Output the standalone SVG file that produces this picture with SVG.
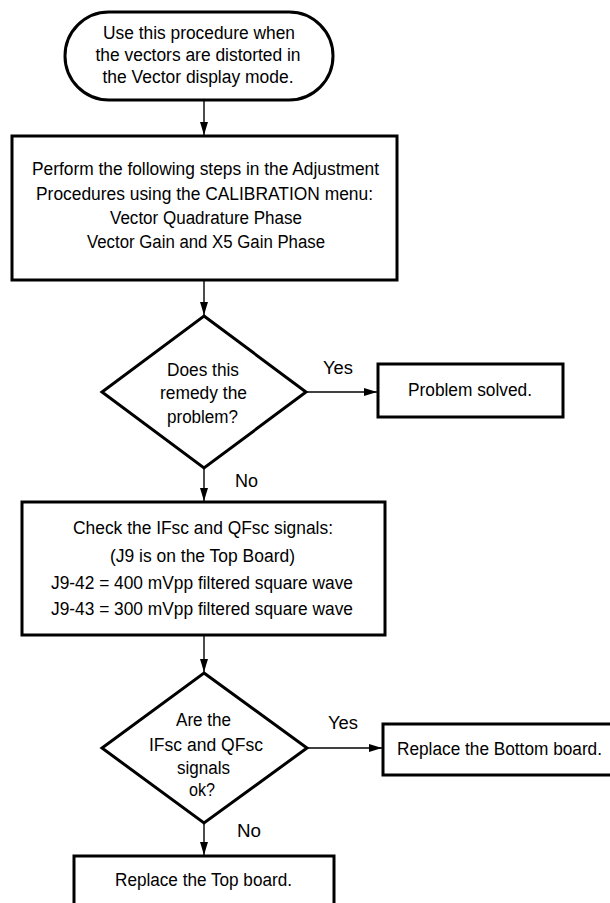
<svg xmlns="http://www.w3.org/2000/svg" width="610" height="903" viewBox="0 0 610 903">
<style>
.shape{fill:#fff;stroke:#000;stroke-width:3;stroke-linejoin:miter}
.conn{fill:none;stroke:#000;stroke-width:1.4}
text{font-family:"Liberation Sans Narrow","Liberation Sans",Arial,sans-serif;font-size:18px;fill:#000}
.c{text-anchor:middle}
</style>
<defs>
<marker id="ah" markerUnits="userSpaceOnUse" markerWidth="14" markerHeight="8" refX="13" refY="4" orient="auto">
<path d="M0,0 L13,4 L0,8 Z" fill="#000"/>
</marker>
</defs>
<rect width="610" height="903" fill="#fff"/>
<g id="connectors">
<line class="conn" x1="204" y1="101" x2="204" y2="135" marker-end="url(#ah)"/>
<line class="conn" x1="204" y1="281" x2="204" y2="315" marker-end="url(#ah)"/>
<line class="conn" x1="307" y1="392" x2="377" y2="392" marker-end="url(#ah)"/>
<line class="conn" x1="204" y1="469" x2="204" y2="501" marker-end="url(#ah)"/>
<line class="conn" x1="204" y1="636" x2="204" y2="672" marker-end="url(#ah)"/>
<line class="conn" x1="308" y1="748" x2="382" y2="748" marker-end="url(#ah)"/>
<line class="conn" x1="204" y1="824" x2="204" y2="855" marker-end="url(#ah)"/>
<text x="323" y="374" textLength="30" lengthAdjust="spacingAndGlyphs">Yes</text>
<text x="235" y="487" textLength="23" lengthAdjust="spacingAndGlyphs">No</text>
<text x="328" y="729" textLength="30" lengthAdjust="spacingAndGlyphs">Yes</text>
<text x="237" y="837" textLength="24" lengthAdjust="spacingAndGlyphs">No</text>
</g>
<g id="start">
<rect class="shape" x="65" y="12" width="268" height="88" rx="44" ry="44"/>
<text class="c" x="199" y="39" textLength="192" lengthAdjust="spacingAndGlyphs">Use this procedure when</text>
<text class="c" x="198" y="61" textLength="205" lengthAdjust="spacingAndGlyphs">the vectors are distorted in</text>
<text class="c" x="198" y="83" textLength="191" lengthAdjust="spacingAndGlyphs">the Vector display mode.</text>
</g>
<g id="adjust">
<rect class="shape" x="12" y="136" width="385" height="144"/>
<text class="c" x="205.5" y="175" textLength="347" lengthAdjust="spacingAndGlyphs">Perform the following steps in the Adjustment</text>
<text class="c" x="204.5" y="199.5" textLength="337" lengthAdjust="spacingAndGlyphs">Procedures using the CALIBRATION menu:</text>
<text class="c" x="206" y="224" textLength="192" lengthAdjust="spacingAndGlyphs">Vector Quadrature Phase</text>
<text class="c" x="206" y="248" textLength="238" lengthAdjust="spacingAndGlyphs">Vector Gain and X5 Gain Phase</text>
</g>
<g id="decision1">
<polygon class="shape" points="204,316 306,392 204,468 102,392"/>
<text class="c" x="203" y="376" textLength="72" lengthAdjust="spacingAndGlyphs">Does this</text>
<text class="c" x="203.5" y="399" textLength="87" lengthAdjust="spacingAndGlyphs">remedy the</text>
<text class="c" x="202.5" y="423" textLength="71" lengthAdjust="spacingAndGlyphs">problem?</text>
</g>
<g id="solved">
<rect class="shape" x="378" y="364" width="185" height="53"/>
<text class="c" x="470" y="396" textLength="124" lengthAdjust="spacingAndGlyphs">Problem solved.</text>
</g>
<g id="check">
<rect class="shape" x="22" y="502" width="363" height="133"/>
<text class="c" x="203" y="534" textLength="260" lengthAdjust="spacingAndGlyphs">Check the IFsc and QFsc signals:</text>
<text class="c" x="202.5" y="562" textLength="185" lengthAdjust="spacingAndGlyphs">(J9 is on the Top Board)</text>
<text class="c" x="202" y="589" textLength="302" lengthAdjust="spacingAndGlyphs">J9-42 = 400 mVpp filtered square wave</text>
<text class="c" x="202" y="615" textLength="302" lengthAdjust="spacingAndGlyphs">J9-43 = 300 mVpp filtered square wave</text>
</g>
<g id="decision2">
<polygon class="shape" points="204,673 307,748 204,823 102,748"/>
<text class="c" x="203.5" y="726" textLength="55" lengthAdjust="spacingAndGlyphs">Are the</text>
<text class="c" x="206" y="751" textLength="114" lengthAdjust="spacingAndGlyphs">IFsc and QFsc</text>
<text class="c" x="203.5" y="774" textLength="53" lengthAdjust="spacingAndGlyphs">signals</text>
<text class="c" x="202" y="796" textLength="26" lengthAdjust="spacingAndGlyphs">ok?</text>
</g>
<g id="bottom-board">
<rect class="shape" x="383" y="724" width="240" height="51"/>
<text x="397" y="755" textLength="205" lengthAdjust="spacingAndGlyphs">Replace the Bottom board.</text>
</g>
<g id="top-board">
<rect class="shape" x="74" y="856" width="260" height="60"/>
<text class="c" x="203.5" y="886" textLength="177" lengthAdjust="spacingAndGlyphs">Replace the Top board.</text>
</g>
</svg>
